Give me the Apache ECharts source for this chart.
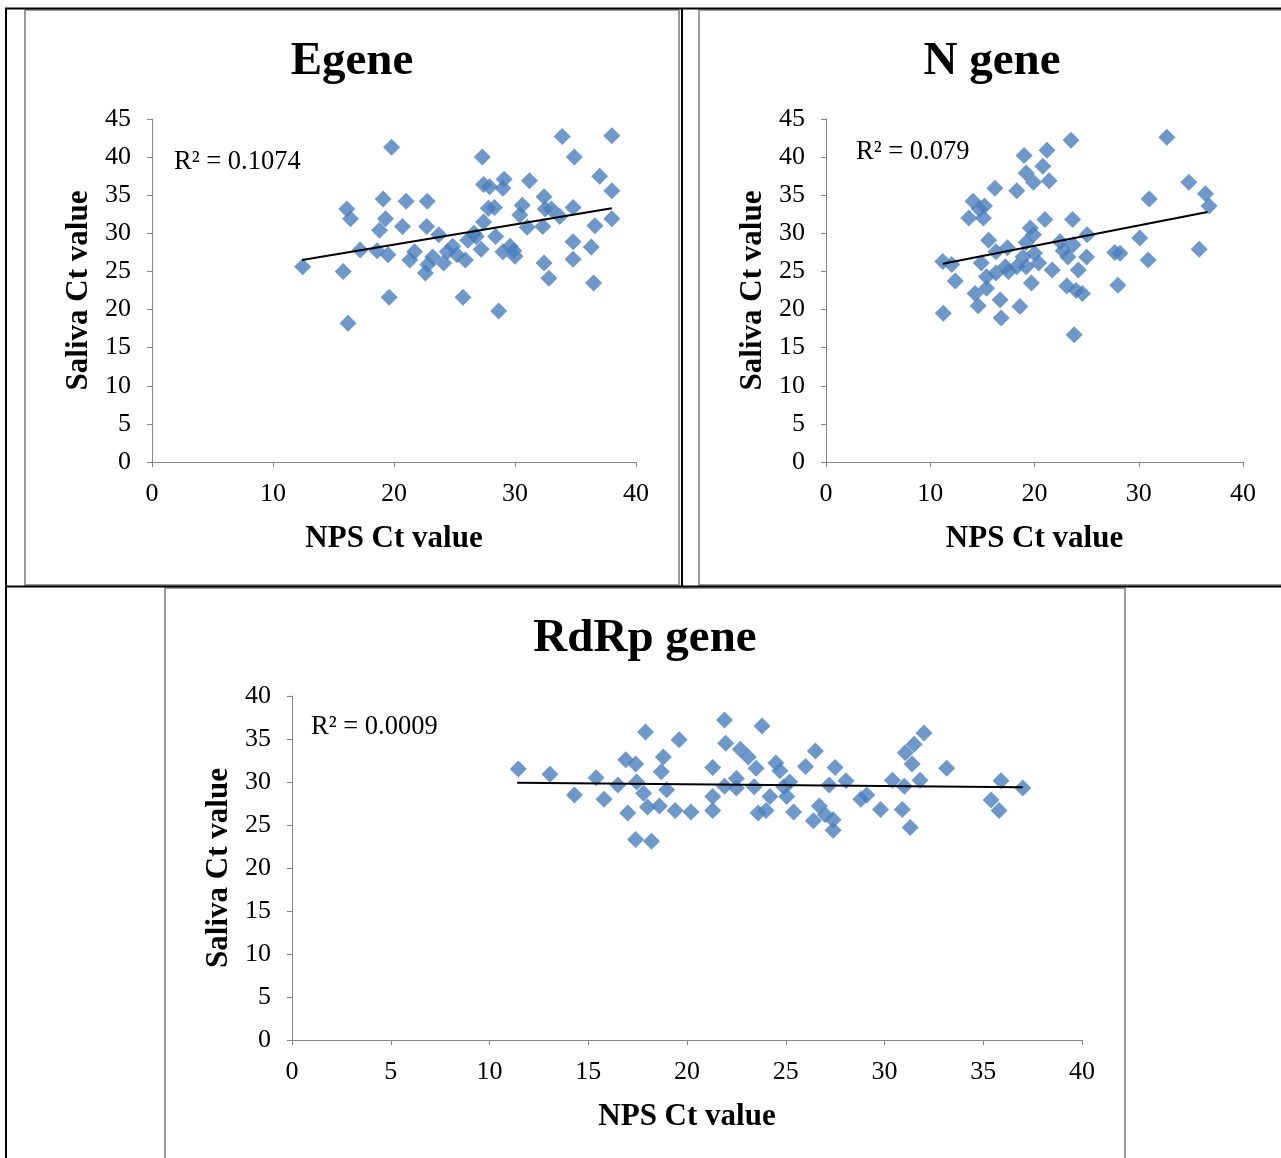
<!DOCTYPE html>
<html>
<head>
<meta charset="utf-8">
<script src="https://cdn.jsdelivr.net/npm/echarts@6/dist/echarts.min.js"></script>
<style>
html,body{margin:0;padding:0;background:#fff;}
#chart{width:1281px;height:1158px;}
</style>
</head>
<body>
<div id="chart"></div>
<script>
// ---------- DATA ----------
const titles = ['Egene', 'N gene', 'RdRp gene'];
const xAxisName = 'NPS Ct value';
const yAxisName = 'Saliva Ct value';
const r2Labels = ['R² = 0.1074', 'R² = 0.079', 'R² = 0.0009'];

const egeneNps = [12.45,15.8,16.2,16.1,16.4,17.2,18.6,18.8,19.3,19.1,19.5,19.6,19.8,20.7,21.0,21.3,21.7,22.75,22.7,22.6,22.8,23.7,23.2,24.1,24.85,25.2,25.9,25.7,26.1,26.8,27.2,27.4,27.3,27.4,27.9,27.8,28.3,28.4,28.65,29.1,29.0,29.0,29.6,30.0,30.4,30.6,31.0,31.2,32.4,32.3,32.5,32.4,32.8,33.0,33.7,33.9,34.8,34.8,34.8,34.9,36.3,36.6,36.5,37.0,38.0,38.0,38.0,26.6,29.9,24.4];
const egeneSaliva = [25.6,25.0,18.2,33.2,31.9,27.8,27.7,30.4,31.9,34.5,27.2,21.6,41.3,30.9,34.2,26.5,27.6,34.2,30.9,24.8,25.9,29.8,26.9,26.1,28.3,27.2,26.5,21.6,29.1,29.6,27.9,31.5,40.0,36.4,36.1,33.3,33.4,29.6,19.8,37.1,35.9,27.6,28.3,27.0,32.4,33.7,30.8,36.9,34.8,30.9,33.2,26.1,24.1,33.2,32.2,42.7,33.4,28.9,26.6,40.0,28.2,31.0,23.5,37.5,35.6,31.9,42.8,30.0,27.7,27.6];
const egeneTrendX = [12.4, 38.0];
const egeneTrendY = [26.5, 33.3];

const nNps = [11.2,12.05,11.25,12.4,13.7,14.1,14.3,14.6,14.7,15.2,15.1,15.6,14.9,15.4,15.4,16.2,16.3,16.3,16.7,16.8,17.4,17.5,18.3,18.3,18.6,19.0,19.2,19.9,20.8,21.2,21.4,19.6,19.9,19.2,18.9,19.2,19.7,20.0,20.4,21.0,21.7,22.45,22.75,23.2,23.1,23.5,23.65,23.7,24.2,24.0,24.6,23.8,25.0,25.05,27.7,28.2,28.0,30.1,30.9,31.0,32.7,34.8,35.8,36.4,36.75,17.2];
const nSaliva = [26.3,25.9,19.5,23.75,32.0,34.2,22.1,20.5,33.2,33.6,32.0,29.1,26.1,24.3,22.8,35.9,27.6,24.8,21.3,18.9,28.1,25.0,35.6,25.6,20.4,40.2,37.9,36.7,38.8,40.9,36.9,30.7,29.8,28.8,26.9,25.6,23.5,27.4,26.1,31.8,25.2,28.9,27.7,26.9,23.1,42.2,31.8,28.5,25.2,22.5,22.1,16.7,26.9,29.8,27.5,27.4,23.2,29.4,26.5,34.5,42.6,36.7,27.9,35.2,33.6,25.6];
const nTrendX = [11.2, 36.6];
const nTrendY = [26.0, 32.8];

const rdrpNps = [11.46,13.06,14.3,15.4,15.8,16.5,16.9,17.0,17.4,17.4,17.45,17.8,17.9,18.0,18.2,18.6,18.7,18.8,18.97,19.4,19.6,20.2,21.3,21.3,21.3,21.9,21.96,21.9,22.5,22.5,22.7,23.1,23.4,23.5,23.6,23.8,24.0,24.2,24.5,24.7,24.9,25.2,25.05,25.4,26.0,26.5,26.4,26.7,27.0,27.2,27.4,27.4,27.5,28.05,28.8,29.1,29.8,30.4,30.9,31.0,31.05,31.3,31.4,31.5,31.8,32.0,33.15,35.4,35.8,35.9,37.0];
const rdrpSaliva = [31.5,30.9,28.5,30.5,28.0,29.65,32.6,26.4,23.3,32.1,30.0,28.7,35.8,27.1,23.1,27.2,31.2,32.9,29.1,26.7,34.9,26.5,26.7,28.3,31.7,37.2,34.5,29.5,29.3,30.4,33.8,32.9,29.45,31.6,26.4,36.5,26.7,28.3,32.2,31.3,29.45,30.0,28.3,26.5,31.8,33.6,25.5,27.2,26.2,29.65,24.4,25.6,31.7,30.15,28.0,28.5,26.8,30.2,26.8,29.5,33.4,24.7,32.1,34.4,30.2,35.7,31.6,27.9,26.7,30.15,29.3];
const rdrpTrendX = [11.4, 37.0];
const rdrpTrendY = [29.9, 29.4];

// ---------- BUILD ----------
const zip = (a, b) => a.map((v, i) => [v, b[i]]);
const FONT = '"Liberation Serif", "Times New Roman", serif';
const AXIS_GRAY = '#868686';
const BLUE = '#4a7ebb';

function xAxisCfg(idx, interval) {
  return {
    gridIndex: idx, type: 'value', min: 0, max: 40, interval: interval,
    name: xAxisName, nameLocation: 'middle', nameGap: 61,
    nameTextStyle: {fontFamily: FONT, fontSize: 31, fontWeight: 'bold', color: '#000'},
    axisLine: {show: true, onZero: false, lineStyle: {color: AXIS_GRAY, width: 1}},
    axisTick: {show: true, inside: false, length: 5, lineStyle: {color: AXIS_GRAY}},
    axisLabel: {fontFamily: FONT, fontSize: 26, color: '#000', margin: 19},
    splitLine: {show: false}
  };
}
function yAxisCfg(idx, max) {
  return {
    gridIndex: idx, type: 'value', min: 0, max: max, interval: 5,
    name: yAxisName, nameLocation: 'middle', nameGap: 58, nameRotate: 90,
    nameTextStyle: {fontFamily: FONT, fontSize: 31, fontWeight: 'bold', color: '#000'},
    axisLine: {show: true, onZero: false, lineStyle: {color: AXIS_GRAY, width: 1}},
    axisTick: {show: true, inside: false, length: 5, lineStyle: {color: AXIS_GRAY}},
    axisLabel: {fontFamily: FONT, fontSize: 26, color: '#000', margin: 21},
    splitLine: {show: false}
  };
}
function scatter(idx, x, y) {
  return {type: 'scatter', xAxisIndex: idx, yAxisIndex: idx, data: zip(x, y),
    symbol: 'diamond', symbolSize: 17, itemStyle: {color: BLUE}, silent: true, z: 3};
}
function trend(idx, x, y) {
  return {type: 'line', xAxisIndex: idx, yAxisIndex: idx, data: zip(x, y),
    symbol: 'none', lineStyle: {color: '#000', width: 2}, silent: true, z: 4};
}

const chart = echarts.init(document.getElementById('chart'), null, {renderer: 'canvas'});

const titleStyle = {fontFamily: FONT, fontSize: 47, fontWeight: 'bold', fill: '#000'};
const r2Style = {fontFamily: FONT, fontSize: 26.5, fill: '#000'};

chart.setOption({
  backgroundColor: '#fff',
  animation: false,
  grid: [
    {left: 152, top: 119, width: 484, height: 343},
    {left: 826, top: 119, width: 417, height: 343},
    {left: 292, top: 696, width: 790, height: 344}
  ],
  xAxis: [xAxisCfg(0, 10), xAxisCfg(1, 10), xAxisCfg(2, 5)],
  yAxis: [yAxisCfg(0, 45), yAxisCfg(1, 45), yAxisCfg(2, 40)],
  series: [
    scatter(0, egeneNps, egeneSaliva), trend(0, egeneTrendX, egeneTrendY),
    scatter(1, nNps, nSaliva), trend(1, nTrendX, nTrendY),
    scatter(2, rdrpNps, rdrpSaliva), trend(2, rdrpTrendX, rdrpTrendY)
  ],
  graphic: [
    // panel borders (gray chart frames)
    {type: 'rect', shape: {x: 25, y: 10, width: 654, height: 575}, style: {fill: null, stroke: '#9a9a9a', lineWidth: 2}, silent: true},
    {type: 'rect', shape: {x: 699, y: 10, width: 620, height: 575}, style: {fill: null, stroke: '#9a9a9a', lineWidth: 2}, silent: true},
    {type: 'rect', shape: {x: 165, y: 588, width: 960, height: 620}, style: {fill: null, stroke: '#9a9a9a', lineWidth: 2}, silent: true},
    // table black lines
    {type: 'line', shape: {x1: 5, y1: 8.5, x2: 1290, y2: 8.5}, style: {stroke: '#000', lineWidth: 2}, silent: true},
    {type: 'line', shape: {x1: 6, y1: 8, x2: 6, y2: 1170}, style: {stroke: '#000', lineWidth: 2}, silent: true},
    {type: 'line', shape: {x1: 682, y1: 8, x2: 682, y2: 587}, style: {stroke: '#000', lineWidth: 2}, silent: true},
    {type: 'line', shape: {x1: 5, y1: 586.5, x2: 1290, y2: 586.5}, style: {stroke: '#000', lineWidth: 2}, silent: true},
    // titles
    {type: 'text', x: 352, y: 62, style: Object.assign({text: titles[0], textAlign: 'center', textVerticalAlign: 'middle'}, titleStyle)},
    {type: 'text', x: 992, y: 62, style: Object.assign({text: titles[1], textAlign: 'center', textVerticalAlign: 'middle'}, titleStyle)},
    {type: 'text', x: 645, y: 639, style: Object.assign({text: titles[2], textAlign: 'center', textVerticalAlign: 'middle'}, titleStyle)},
    // R² labels
    {type: 'text', x: 174, y: 162, style: Object.assign({text: r2Labels[0], textAlign: 'left', textVerticalAlign: 'middle'}, r2Style)},
    {type: 'text', x: 856, y: 152, style: Object.assign({text: r2Labels[1], textAlign: 'left', textVerticalAlign: 'middle'}, r2Style)},
    {type: 'text', x: 311, y: 727, style: Object.assign({text: r2Labels[2], textAlign: 'left', textVerticalAlign: 'middle'}, r2Style)}
  ]
});
</script>
</body>
</html>
